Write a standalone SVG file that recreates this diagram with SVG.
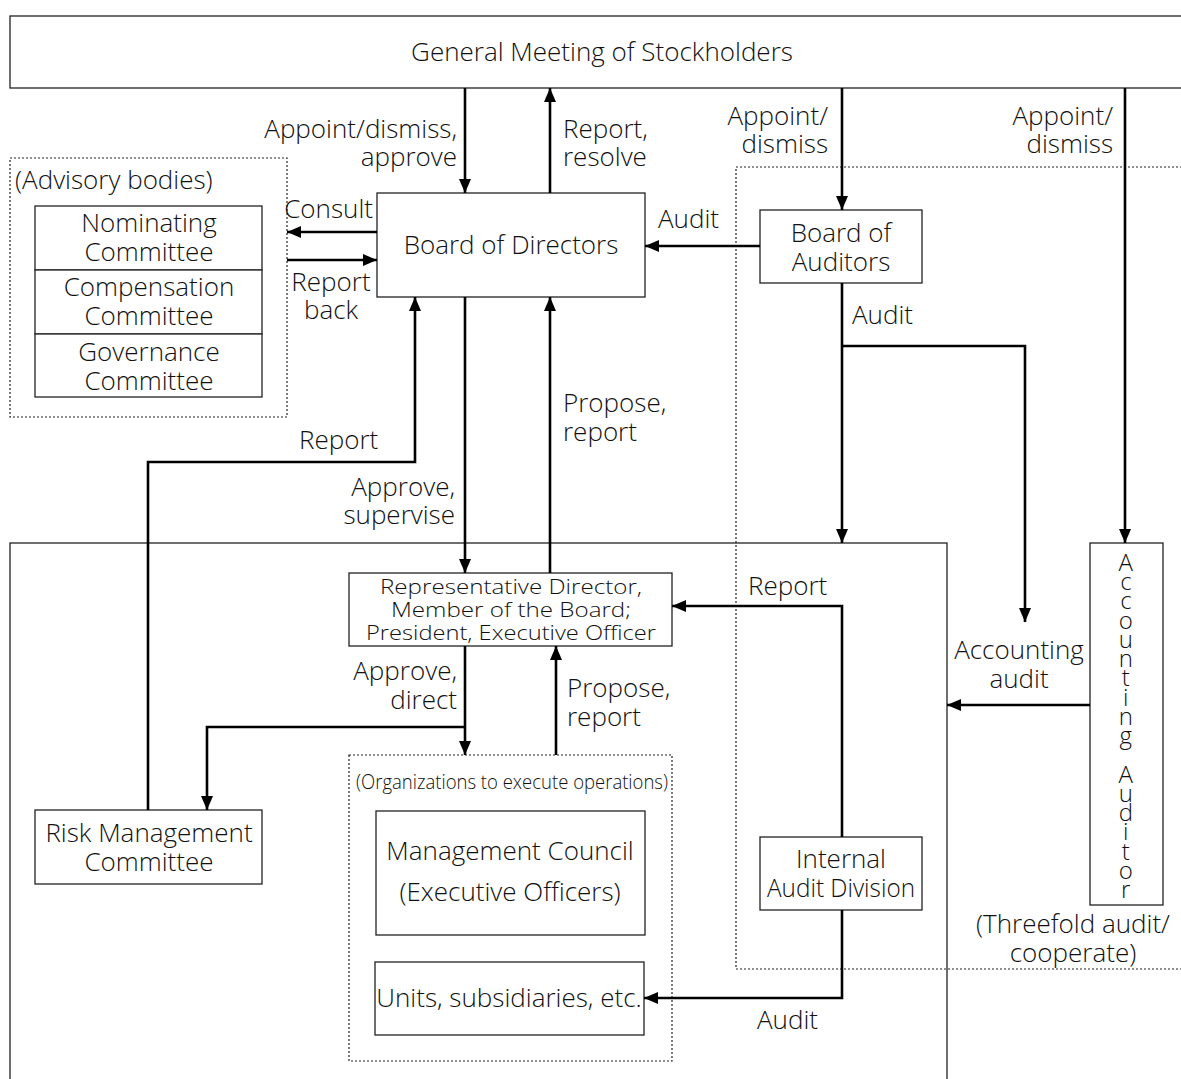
<svg xmlns="http://www.w3.org/2000/svg" width="1181" height="1079" viewBox="0 0 1181 1079">
<style>
text{font-family:"Open Sans","Noto Sans",sans-serif;font-size:26px;fill:#111;font-weight:300}
.box{fill:#fff;stroke:#222;stroke-width:1.3}
.dot{fill:none;stroke:#222;stroke-width:1.2;stroke-dasharray:2 2}
.c{fill:none;stroke:#000;stroke-width:2.6}
.m{text-anchor:middle}
.e{text-anchor:end}
.sm{font-size:20px}
.vt{writing-mode:vertical-rl;text-orientation:upright;font-size:24px}
</style>
<defs>
<marker id="ah" markerUnits="userSpaceOnUse" markerWidth="14" markerHeight="14" viewBox="0 0 14 14" refX="14" refY="7" orient="auto">
<path d="M0,1 L14,7 L0,13 z" fill="#000"/>
</marker>
</defs>
<rect width="1181" height="1079" fill="#fff"/>

<g id="main-area"><rect class="box" x="10" y="543" width="937" height="560"/></g>
<g id="audit-area"><rect class="dot" x="736" y="167" width="470" height="802"/></g>

<g id="gm"><rect class="box" x="10" y="16" width="1200" height="72"/>
<text class="m" x="602" y="61">General Meeting of Stockholders</text></g>

<g id="advisory"><rect class="dot" x="10" y="158" width="277" height="259"/>
<text x="15" y="189">(Advisory bodies)</text></g>
<g id="nominating"><rect class="box" x="35" y="206" width="227" height="64"/>
<text class="m" x="149" y="232">Nominating</text><text class="m" x="149" y="261">Committee</text></g>
<g id="compensation"><rect class="box" x="35" y="270" width="227" height="64"/>
<text class="m" x="149" y="296">Compensation</text><text class="m" x="149" y="325">Committee</text></g>
<g id="governance"><rect class="box" x="35" y="334" width="227" height="63"/>
<text class="m" x="149" y="361">Governance</text><text class="m" x="149" y="390">Committee</text></g>

<g id="bod"><rect class="box" x="377" y="193" width="268" height="104"/>
<text class="m" x="511" y="254">Board of Directors</text></g>

<g id="boa"><rect class="box" x="760" y="210" width="162" height="73"/>
<text class="m" x="841" y="242">Board of</text><text class="m" x="841" y="271">Auditors</text></g>

<g id="accaud"><rect class="box" x="1090" y="543" width="73" height="362"/>
<text class="vt" x="1126" y="545" textLength="360" lengthAdjust="spacing">Accounting Auditor</text></g>

<g id="repdir"><rect class="box" x="349" y="573" width="323" height="73"/>
<text class="m sm" x="511" y="594" textLength="262" lengthAdjust="spacingAndGlyphs">Representative Director,</text>
<text class="m sm" x="511" y="617" textLength="240" lengthAdjust="spacingAndGlyphs">Member of the Board;</text>
<text class="m sm" x="511" y="640" textLength="290" lengthAdjust="spacingAndGlyphs">President, Executive Officer</text></g>

<g id="risk"><rect class="box" x="35" y="810" width="227" height="74"/>
<text class="m" x="149" y="842">Risk Management</text><text class="m" x="149" y="871">Committee</text></g>

<g id="org"><rect class="dot" x="349" y="755" width="323" height="306"/>
<text class="sm" x="356" y="789" textLength="312" lengthAdjust="spacingAndGlyphs">(Organizations to execute operations)</text></g>
<g id="council"><rect class="box" x="376" y="811" width="269" height="124"/>
<text class="m" x="510" y="860">Management Council</text><text class="m" x="510" y="901">(Executive Officers)</text></g>
<g id="units"><rect class="box" x="375" y="962" width="269" height="73"/>
<text class="m" x="509" y="1007">Units, subsidiaries, etc.</text></g>

<g id="iad"><rect class="box" x="760" y="837" width="162" height="73"/>
<text class="m" x="841" y="868">Internal</text><text class="m" x="841" y="897" textLength="148" lengthAdjust="spacingAndGlyphs">Audit Division</text></g>

<g id="connectors">
<path class="c" d="M465,88 V193" marker-end="url(#ah)"/>
<path class="c" d="M550,193 V88" marker-end="url(#ah)"/>
<path class="c" d="M842,88 V210" marker-end="url(#ah)"/>
<path class="c" d="M1125,88 V543" marker-end="url(#ah)"/>
<path class="c" d="M377,232 H287" marker-end="url(#ah)"/>
<path class="c" d="M287,260 H377" marker-end="url(#ah)"/>
<path class="c" d="M760,246 H645" marker-end="url(#ah)"/>
<path class="c" d="M842,283 V543" marker-end="url(#ah)"/>
<path class="c" d="M842,346 H1025 V622" marker-end="url(#ah)"/>
<path class="c" d="M1090,705 H947" marker-end="url(#ah)"/>
<path class="c" d="M465,297 V573" marker-end="url(#ah)"/>
<path class="c" d="M550,573 V297" marker-end="url(#ah)"/>
<path class="c" d="M148,810 V462 H415 V297" marker-end="url(#ah)"/>
<path class="c" d="M465,646 V755" marker-end="url(#ah)"/>
<path class="c" d="M465,727 H207 V810" marker-end="url(#ah)"/>
<path class="c" d="M556,755 V646" marker-end="url(#ah)"/>
<path class="c" d="M842,837 V606 H672" marker-end="url(#ah)"/>
<path class="c" d="M842,910 V998 H644" marker-end="url(#ah)"/>
</g>

<g id="labels">
<text class="e" x="457" y="138">Appoint/dismiss,</text><text class="e" x="457" y="166">approve</text>
<text x="563" y="138">Report,</text><text x="563" y="166">resolve</text>
<text class="e" x="828" y="125">Appoint/</text><text class="e" x="828" y="153">dismiss</text>
<text class="e" x="1113" y="125">Appoint/</text><text class="e" x="1113" y="153">dismiss</text>
<text class="e" x="373" y="218">Consult</text>
<text class="m" x="331" y="291">Report</text><text class="m" x="331" y="319">back</text>
<text x="658" y="228">Audit</text>
<text x="852" y="324">Audit</text>
<text x="299" y="449">Report</text>
<text x="563" y="412">Propose,</text><text x="563" y="441">report</text>
<text class="e" x="455" y="496">Approve,</text><text class="e" x="455" y="524">supervise</text>
<text x="748" y="595">Report</text>
<text class="m" x="1019" y="659">Accounting</text><text class="m" x="1019" y="688">audit</text>
<text class="e" x="457" y="680">Approve,</text><text class="e" x="457" y="709">direct</text>
<text x="567" y="697">Propose,</text><text x="567" y="726">report</text>
<text class="m" x="1073" y="933">(Threefold audit/</text><text class="m" x="1073" y="962">cooperate)</text>
<text x="757" y="1029">Audit</text>
</g>
</svg>
